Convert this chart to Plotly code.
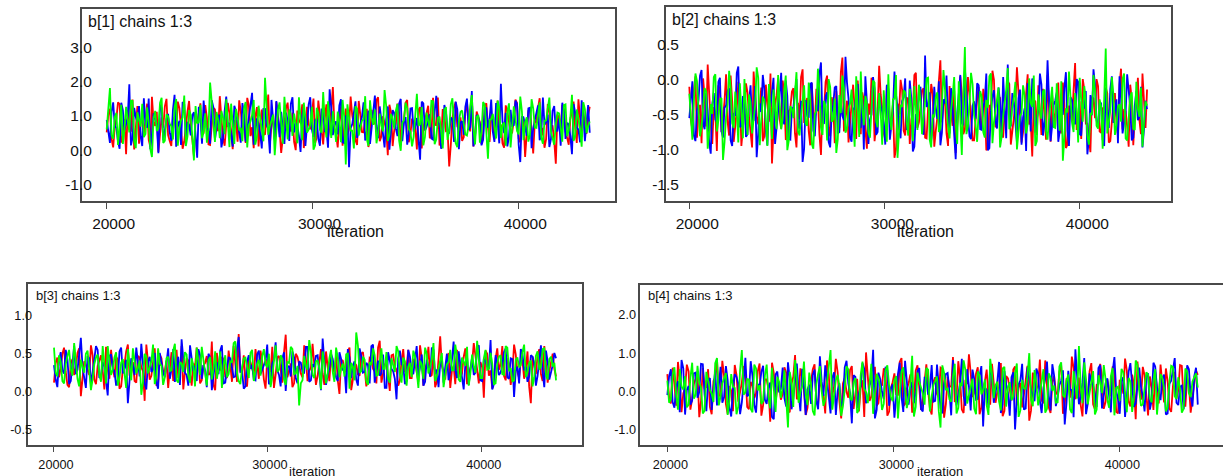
import plotly.graph_objects as go

# ---- sampling grid (iterations) ----
start_iter = 20001
thin = 78.5
n_samples = 300
iterations = [int(round(start_iter + i * thin)) for i in range(n_samples)]

chain_names = ["chain 1", "chain 2", "chain 3"]
chain_colors = ["#FF0000", "#0000FF", "#00FF00"]

# Each chain is stored as its even-numbered and odd-numbered thinned samples.
# ---- b[1] ----
b1_chain1_even = [0.52, 1.21, 0.08, 0.93, 1.35, 0.41, -0.12, 0.77, 1.48, 0.63, 0.19, 1.02, 0.85, 0.30, 1.56, 0.71, -0.05, 0.96, 1.28, 0.44,
                  0.12, 0.88, 1.42, 0.57, 0.26, 1.13, 0.69, -0.18, 0.81, 1.37, 0.50, 0.95, 0.15, 1.24, 0.62, 1.58, 0.36, 0.74, 1.07, 0.03,
                  0.89, 1.46, 0.58, 0.21, 1.31, 0.67, 0.98, 0.11, 1.19, 0.45, 1.63, 0.72, 0.33, 1.05, -0.08, 0.84, 1.39, 0.55, 0.24, 1.16,
                  0.79, 0.06, 1.27, 0.61, 1.51, 0.38, 0.92, 0.17, 1.34, 0.70, 1.85, 0.47, 0.86, 0.13, 1.22, 0.64, 1.01, 0.29, 1.44, 0.53,
                  0.97, 0.09, 1.18, 0.76, 1.55, 0.40, 0.83, -0.15, 1.11, 0.59, 1.36, 0.22, 0.90, 1.47, 0.48, 0.78, 0.02, 1.26, 0.66, 1.09,
                  0.35, 1.53, 0.73, 0.14, 1.20, 0.56, -0.48, 0.94, 1.41, 0.60, 0.27, 1.08, 0.80, 1.61, 0.42, 0.99, 0.18, 1.30, 0.68, 1.04,
                  0.31, 1.45, 0.75, 0.07, 1.15, 0.51, 0.87, 1.38, 0.23, 0.91, 0.46, 1.25, -0.10, 0.82, 1.52, 0.65, 0.32, 1.12, 0.71, -0.40,
                  0.96, 1.33, 0.54, 0.16, 1.23, 0.63, 1.49, 0.39, 0.85, 1.02]
b1_chain1_odd = [1.05, 0.33, 0.68, 1.40, 0.22, 0.91, 1.17, 0.54, 0.02, 1.29, 0.75, 0.48, 1.36, 0.10, 0.83, 1.12, 0.39, 0.66, 1.50, 0.27,
                 0.95, 0.58, 1.23, 0.04, 0.79, 1.44, 0.30, 0.87, 1.08, 0.45, 1.32, 0.17, 0.71, 1.19, 0.56, 0.94, 0.13, 1.38, 0.62, 0.84,
                 0.25, 1.14, 0.72, 1.53, 0.41, 0.06, 1.26, 0.80, 0.50, 1.02, 0.18, 0.97, 1.41, 0.60, 0.31, 1.22, 0.69, 1.10, 0.00, 0.88,
                 1.34, 0.47, 0.76, 1.06, 0.20, 1.45, 0.57, 0.93, 0.35, 1.16, 0.64, 0.08, 1.28, 0.81, 0.44, 1.57, 0.73, 0.15, 1.03, 0.52,
                 1.21, 0.37, 0.86, 1.47, 0.26, 0.99, 0.61, 1.33, 0.12, 0.78, 1.09, 0.49, 1.39, 0.23, 0.92, 0.67, 1.18, 0.05, 0.84, 1.30,
                 0.43, 0.74, 1.54, 0.29, 1.01, 0.59, 0.16, 1.25, 0.70, 0.96, 0.38, 1.43, 0.55, 0.11, 1.13, 0.82, 0.46, 1.37, 0.24, 0.89,
                 1.07, 0.63, 0.19, 1.31, 0.77, 0.51, 1.48, 0.34, 0.98, -0.20, 1.15, 0.58, 0.85, 1.24, 0.42, 0.07, 1.35, 0.72, 0.28, 1.04,
                 0.60, 1.20, 0.36, 0.90, 1.42, 0.21, 0.79, 1.11, 0.48, 1.27]
b1_chain2_even = [0.88, 0.21, 1.40, 0.65, 0.04, 1.17, 0.79, 1.93, 0.36, 0.97, 1.29, 0.12, 0.74, 1.51, 0.47, 0.90, -0.09, 1.23, 0.58, 1.06,
                  0.27, 1.62, 0.69, 0.15, 1.34, 0.83, 0.43, 1.11, -0.22, 0.95, 1.45, 0.60, 0.19, 1.26, 0.72, 1.03, 0.34, 1.57, 0.80, 0.10,
                  1.14, 0.55, 1.38, 0.25, 0.93, 1.68, 0.49, 0.77, 0.05, 1.21, 0.62, 1.47, 0.30, 0.99, 1.12, 0.18, 0.86, 1.36, 0.52, 0.71,
                  -0.05, 1.25, 0.67, 1.55, 0.39, 0.92, 0.13, 1.19, 0.61, 1.78, 0.44, 0.84, 1.31, 0.23, 1.01, -0.50, 0.76, 1.43, 0.57, 0.97,
                  0.28, 1.16, 0.70, 1.60, 0.35, 0.89, 0.08, 1.28, 0.63, 1.09, 0.41, 1.50, 0.81, 0.16, 1.22, 0.54, 0.94, -0.28, 1.37, 0.68,
                  1.05, 0.31, 1.59, 0.78, 0.20, 1.13, 0.48, 0.91, 1.42, 0.03, 0.85, 1.27, 0.59, 1.73, 0.37, 0.98, 0.14, 1.20, 0.66, 1.48,
                  0.24, 0.87, 1.94, 0.50, 0.11, 1.18, 0.73, 1.35, -0.35, 0.96, 0.42, 1.24, 0.64, 1.06, 0.29, 1.54, 0.82, 0.09, 1.15, 0.56,
                  0.93, 1.39, 0.33, 0.75, -0.12, 1.10, 0.60, 1.46, 0.26, 1.32]
b1_chain2_odd = [0.47, 1.12, 0.70, 0.25, 1.39, 0.58, 0.96, 0.14, 1.24, 0.83, 0.40, 1.52, 0.66, 0.03, 1.08, 0.77, 1.33, 0.29, 0.91, 0.52,
                 1.18, 0.10, 0.86, 1.41, 0.35, 0.74, 1.02, 0.56, 1.27, 0.19, 0.89, 0.62, 1.46, 0.31, 0.98, 0.08, 1.15, 0.68, 0.44, 1.30,
                 0.80, 0.22, 1.05, 0.59, 1.37, 0.16, 0.93, 0.49, 1.21, 0.72, -0.10, 0.85, 1.44, 0.38, 0.65, 1.10, 0.27, 1.55, 0.79, 0.42,
                 1.00, 0.12, 1.34, 0.61, 0.88, 0.33, 1.19, 0.53, 0.07, 1.26, 0.75, 0.46, 1.49, 0.21, 0.94, 0.64, 1.13, 0.36, 0.82, 1.40,
                 0.55, 0.18, 1.07, 0.73, 1.28, 0.43, 0.90, 0.01, 1.17, 0.63, 1.36, 0.26, 0.97, 0.50, 1.23, 0.69, 0.15, 1.42, 0.57, 0.87,
                 0.34, 1.11, 0.78, 0.04, 1.32, 0.60, 0.95, 0.24, 1.20, 0.81, 0.45, 1.51, 0.67, 0.11, 1.03, 0.76, 0.30, 1.25, 0.92, 0.54,
                 1.38, 0.20, 0.84, 1.09, 0.39, 0.71, 1.45, 0.17, 0.99, 0.62, 1.22, 0.06, 0.88, 1.31, 0.48, 0.74, 1.04, 0.32, 1.29, 0.57,
                 0.13, 1.16, 0.80, 0.41, 1.35, 0.66, 0.23, 1.07, 0.85, 0.51]
b1_chain3_even = [0.61, 1.82, 0.33, 1.09, 0.75, 0.18, 1.27, 0.52, 1.44, 0.06, 0.91, 1.36, 0.47, 0.80, -0.20, 1.15, 0.64, 1.53, 0.28, 0.99,
                  0.70, 1.25, 0.13, 0.87, 1.60, 0.40, 1.04, -0.30, 0.78, 1.33, 0.55, 0.22, 1.98, 0.68, 1.12, 0.35, 0.94, 1.49, 0.09, 0.83,
                  1.21, 0.58, 0.26, 1.41, 0.73, 1.02, 0.16, 1.30, 0.62, 2.12, 0.45, 0.89, -0.15, 1.18, 0.66, 1.56, 0.31, 0.97, 1.07, 0.20,
                  0.85, 1.39, 0.51, 0.74, 0.01, 1.24, 0.60, 1.70, 0.37, 0.92, 1.14, 0.24, 0.79, 1.47, -0.42, 1.00, 0.57, 1.29, 0.43, 0.86,
                  1.58, 0.12, 0.95, 1.19, 0.49, 0.71, 1.76, 0.27, 1.06, 0.63, 1.35, -0.02, 0.88, 1.23, 0.54, 0.39, 1.65, 0.76, 0.14, 1.10,
                  0.67, 1.43, 0.32, 0.98, 0.05, 1.26, 0.59, 1.52, 0.21, 0.84, 1.16, 0.46, 0.72, 1.61, 0.17, 1.03, 0.53, 1.32, -0.25, 0.90,
                  0.69, 1.45, 0.36, 0.81, 1.13, 0.08, 1.28, 0.56, 1.57, 0.29, 0.96, 0.44, 1.22, 0.65, 1.40, 0.19, 0.87, 1.54, 0.38, 0.77,
                  1.08, 0.25, 1.34, 0.58, 1.62, 0.41, 0.93, 0.10, 1.20, 0.70]
b1_chain3_odd = [1.20, 0.44, 0.97, 0.15, 1.33, 0.60, 0.86, 1.45, 0.27, 1.11, 0.69, 0.38, 1.25, 0.04, 0.92, 0.56, 1.38, 0.21, 1.05, 0.77,
                 0.31, 1.50, 0.63, 0.95, 0.12, 1.17, 0.49, 1.29, 0.82, 0.35, 1.08, 0.59, 1.42, 0.24, 0.88, 1.15, 0.47, 0.73, 1.36, 0.18,
                 0.99, 0.65, 1.23, 0.08, 0.84, 1.47, 0.40, 0.91, 0.26, 1.31, 0.70, 1.04, 0.53, 1.40, 0.19, 0.87, 1.19, 0.42, 0.76, 1.55,
                 0.29, 0.96, 0.61, 1.27, 0.14, 1.09, 0.51, 0.83, 1.43, 0.36, 0.71, 1.13, 0.23, 0.98, 1.34, 0.57, 0.05, 1.21, 0.67, 0.90,
                 0.33, 1.46, 0.74, 0.20, 1.07, 0.55, 1.30, 0.45, 0.93, 1.16, 0.28, 0.80, 1.39, 0.62, 0.11, 1.01, 0.72, 1.26, 0.39, 0.85,
                 1.44, 0.17, 0.94, 0.58, 1.18, 0.30, 1.35, 0.68, 0.09, 1.12, 0.79, 0.43, 1.28, 0.64, 0.97, 0.22, 1.41, 0.52, 0.89, 1.06,
                 0.34, 1.24, 0.75, 0.13, 1.37, 0.60, 0.92, 0.46, 1.14, 0.81, 0.25, 1.49, 0.66, 1.02, 0.37, 0.86, 1.22, 0.54, 0.16, 1.10,
                 0.73, 1.32, 0.41, 0.95, 0.27, 1.19, 0.63, 1.40, 0.50, 0.84]

# ---- b[2] ----
b2_chain1_even = [-0.10, -0.72, 0.05, -0.48, -0.91, -0.25, 0.22, -0.63, -0.39, -1.02, -0.14, -0.55, 0.08, -0.80, -0.31, -0.67, -0.03, -0.95, -0.44, -0.18,
                  -0.76, 0.12, -0.52, -0.29, -0.88, -0.07, -0.60, -1.20, -0.35, 0.02, -0.70, -0.21, -0.84, -0.41, -0.12, -0.97, -0.57, 0.15, -0.33, -0.74,
                  -0.05, -0.62, -0.27, -1.08, -0.46, 0.06, -0.81, -0.37, -0.16, -0.69, 0.32, -0.53, -0.90, -0.23, -0.43, -0.01, -0.78, -0.30, -0.99, -0.50,
                  -0.11, -0.65, 0.20, -0.40, -0.86, -0.19, -0.58, -1.12, -0.34, 0.00, -0.73, -0.26, -0.92, -0.47, 0.10, -0.61, -0.15, -0.83, -0.38, -0.06,
                  -0.96, -0.54, 0.28, -0.32, -0.77, -0.09, -0.66, -1.05, -0.42, -0.20, -0.71, 0.04, -0.49, -0.87, -0.28, -0.59, -0.13, -1.01, -0.36, 0.13,
                  -0.68, -0.24, -0.82, -0.45, -0.02, -0.93, -0.56, 0.18, -0.39, -0.75, -0.17, -0.64, -1.10, -0.31, -0.08, -0.79, -0.44, 0.07, -0.89, -0.51,
                  -0.22, -0.70, -0.04, -0.98, -0.37, -0.60, 0.24, -0.47, -0.85, -0.14, -0.63, -1.04, -0.27, 0.01, -0.74, -0.40, -0.11, -0.90, -0.55, -0.19,
                  -0.80, 0.16, -0.42, -0.67, -0.07, -0.94, -0.33, -0.58, 0.09, -0.69]
b2_chain1_odd = [-0.58, -0.15, -0.83, -0.36, 0.02, -0.67, -0.24, -0.92, -0.47, -0.08, -0.75, -0.31, -0.60, 0.06, -0.89, -0.42, -0.19, -0.70, -0.05, -0.53,
                 -0.97, -0.28, -0.64, -0.11, -0.81, -0.39, 0.09, -0.72, -0.22, -0.56, -0.01, -0.86, -0.45, -0.17, -0.77, -0.33, 0.04, -0.62, -0.26, -0.94,
                 -0.49, -0.13, -0.79, -0.37, -0.03, -0.68, -0.25, -0.91, -0.52, 0.11, -0.74, -0.30, -0.59, -0.07, -0.85, -0.41, -0.18, -0.71, -0.34, 0.03,
                 -0.88, -0.46, -0.21, -0.76, -0.09, -0.63, -0.35, -1.00, -0.50, -0.14, -0.80, -0.27, -0.57, 0.07, -0.69, -0.40, -0.12, -0.84, -0.44, -0.20,
                 -0.73, -0.02, -0.61, -0.29, -0.95, -0.48, -0.16, -0.66, 0.05, -0.78, -0.38, -0.23, -0.87, -0.54, -0.10, -0.70, -0.32, -0.99, -0.43, 0.00,
                 -0.65, -0.26, -0.82, -0.51, -0.06, -0.74, -0.35, -0.18, -0.90, -0.46, 0.08, -0.60, -0.29, -0.79, -0.40, -0.13, -0.86, -0.53, -0.22, -0.68,
                 -0.04, -0.77, -0.37, -0.93, -0.49, -0.15, -0.72, -0.31, 0.01, -0.63, -0.84, -0.24, -0.55, -0.09, -0.76, -0.42, -0.19, -0.88, -0.33, -0.61,
                 -0.07, -0.71, -0.45, -0.96, -0.28, -0.52, 0.03, -0.78, -0.36, -0.14]
b2_chain2_even = [-0.55, -0.02, -0.88, -0.30, 0.14, -0.71, -0.44, -1.06, -0.19, -0.61, 0.03, -0.83, -0.37, -0.12, -0.95, -0.50, 0.19, -0.66, -0.26, -0.78,
                  -0.08, -0.58, -1.11, -0.34, 0.07, -0.73, -0.41, -0.16, -0.92, -0.48, 0.10, -0.64, -0.23, -0.86, -0.39, 0.01, -0.70, -1.18, -0.29, -0.53,
                  -0.04, -0.81, -0.45, 0.25, -0.62, -0.18, -0.97, -0.36, -0.09, -0.75, -0.52, 0.33, -0.27, -0.89, -0.42, -0.06, -0.68, -1.00, -0.32, -0.57,
                  0.04, -0.79, -0.21, -0.46, -0.93, -0.13, -0.60, 0.12, -0.38, -0.84, -0.25, -0.72, -0.01, -1.03, -0.49, -0.15, -0.65, 0.35, -0.35, -0.87,
                  -0.10, -0.56, -0.94, -0.28, 0.06, -0.77, -0.43, -1.14, -0.20, -0.63, 0.17, -0.51, -0.85, -0.31, -0.05, -0.71, -0.40, 0.09, -0.98, -0.24,
                  -0.59, -0.11, -0.82, -0.47, 0.22, -0.67, -0.33, -0.90, -0.14, -0.54, -1.02, -0.26, 0.02, -0.76, -0.44, -0.07, -0.61, 0.28, -0.88, -0.36,
                  -0.18, -0.73, -0.50, 0.11, -0.95, -0.29, -0.64, -0.03, -0.80, -0.41, -1.07, -0.22, 0.15, -0.58, -0.34, -0.86, -0.12, -0.69, 0.05, -0.48,
                  -0.91, -0.27, -0.62, 0.08, -0.39, -0.83, -0.16, -0.53, -0.97, -0.30]
b2_chain2_odd = [-0.27, -0.80, -0.44, 0.06, -0.63, -0.19, -0.91, -0.35, -0.57, -0.03, -0.74, -0.40, -0.16, -0.87, -0.49, 0.10, -0.68, -0.25, -0.82, -0.32,
                 -0.60, -0.09, -0.78, -0.46, -0.13, -0.94, -0.38, 0.03, -0.70, -0.22, -0.55, -0.01, -0.85, -0.43, -0.17, -0.66, -0.30, -0.99, -0.52, -0.06,
                 -0.73, -0.36, 0.08, -0.61, -0.24, -0.89, -0.47, -0.11, -0.77, -0.33, -0.58, -0.04, -0.83, -0.41, -0.20, -0.69, -0.28, 0.05, -0.92, -0.50,
                 -0.14, -0.75, -0.37, -0.62, -0.07, -0.86, -0.45, -0.21, -0.71, -0.31, 0.02, -0.65, -0.26, -0.96, -0.53, -0.10, -0.79, -0.39, -0.18, -0.67,
                 -0.42, -0.02, -0.76, -0.34, -0.59, -0.12, -0.88, -0.48, 0.07, -0.64, -0.23, -0.81, -0.37, -0.56, -0.08, -0.72, -0.29, -1.01, -0.45, -0.15,
                 -0.70, -0.33, 0.04, -0.84, -0.50, -0.19, -0.61, -0.27, -0.93, -0.41, -0.05, -0.74, -0.36, -0.57, 0.09, -0.80, -0.44, -0.21, -0.66, -0.30,
                 -0.89, -0.47, -0.11, -0.73, -0.25, -0.54, 0.01, -0.78, -0.39, -0.16, -0.85, -0.51, -0.07, -0.69, -0.34, -0.95, -0.43, -0.13, -0.62, -0.28,
                 0.05, -0.77, -0.48, -0.20, -0.87, -0.37, -0.58, -0.10, -0.71, -0.42]
b2_chain3_even = [-0.20, -0.86, 0.09, -0.47, -0.68, -0.12, -0.99, -0.35, 0.04, -0.74, -0.28, -1.15, -0.53, 0.13, -0.62, -0.17, -0.90, -0.41, 0.01, -0.79,
                  -0.32, -0.58, 0.18, -0.94, -0.24, -0.66, -0.06, -0.85, -0.43, 0.07, -0.71, -0.15, -1.01, -0.38, -0.55, 0.11, -0.80, -0.26, -0.63, -0.04,
                  -0.92, -0.49, 0.16, -0.69, -0.30, -0.87, -0.10, -0.57, -1.05, -0.22, 0.06, -0.76, -0.40, -0.14, -0.96, -0.51, 0.12, -0.65, -0.33, -0.83,
                  -0.01, -0.59, -0.19, -0.93, -0.45, 0.08, -0.72, -0.27, -1.12, -0.36, -0.15, -0.61, -0.13, -0.88, -0.42, -0.07, -0.78, -0.31, 0.03, -0.97,
                  -0.54, -0.18, -0.70, 0.14, -0.46, -0.84, -0.23, -0.60, -0.02, -1.08, 0.47, -0.67, 0.10, -0.50, -0.89, -0.16, -0.75, -0.29, 0.05, -0.91,
                  -0.44, -0.11, -0.82, -0.34, 0.17, -0.64, -0.25, -1.00, -0.52, -0.08, -0.77, 0.02, -0.39, -0.95, -0.21, -0.56, -0.14, -0.86, -0.32, -0.68,
                  -0.05, -0.73, -1.16, -0.41, 0.12, -0.62, -0.19, -0.90, -0.35, -0.09, -0.81, -0.48, 0.07, -0.66, -0.28, -0.99, 0.45, -0.57, 0.04, -0.79,
                  -0.38, -0.60, 0.09, -0.87, -0.24, -0.70, -0.03, -0.53, -0.96, -0.31]
b2_chain3_odd = [-0.64, -0.30, -0.02, -0.81, -0.40, -0.17, -0.73, -0.49, 0.08, -0.58, -0.26, -0.90, -0.35, -0.11, -0.69, -0.44, -0.05, -0.84, -0.52, -0.21,
                 -0.77, -0.37, 0.03, -0.63, -0.29, -0.95, -0.46, -0.14, -0.71, -0.33, -0.56, 0.06, -0.87, -0.42, -0.19, -0.74, -0.51, -0.08, -0.66, -0.31,
                 -0.99, -0.45, -0.16, -0.79, -0.38, 0.01, -0.60, -0.27, -0.85, -0.48, -0.12, -0.70, -0.34, -0.57, 0.05, -0.82, -0.41, -0.23, -0.76, -0.36,
                 -0.04, -0.68, -0.47, -0.15, -0.89, -0.53, -0.28, 0.07, -0.62, -0.39, -0.18, -0.80, -0.44, -0.09, -0.72, -0.32, -0.59, 0.02, -0.86, -0.50,
                 -0.25, -0.75, -0.37, -0.13, -0.67, -0.43, 0.04, -0.92, -0.55, -0.20, -0.78, -0.35, -0.06, -0.65, -0.46, -0.24, -0.83, -0.40, 0.09, -0.61,
                 -0.30, -0.97, -0.52, -0.14, -0.71, -0.38, -0.03, -0.79, -0.48, -0.22, -0.64, -0.33, 0.06, -0.88, -0.45, -0.17, -0.73, -0.54, -0.10, -0.69,
                 -0.36, -0.02, -0.82, -0.47, -0.26, -0.75, -0.41, 0.03, -0.60, -0.31, -0.93, -0.50, -0.15, -0.70, -0.39, -0.08, -0.77, -0.44, -0.21, -0.66,
                 -0.35, 0.01, -0.84, -0.49, -0.18, -0.72, -0.42, -0.11, -0.62, -0.37]

# ---- b[3] ----
b3_chain1_even = [0.12, 0.45, 0.31, 0.58, 0.09, 0.37, 0.22, 0.51, -0.06, 0.40, 0.27, 0.61, 0.16, 0.34, 0.48, 0.03, 0.29, 0.55, 0.19, 0.42,
                  0.07, 0.36, 0.62, 0.24, 0.14, 0.47, 0.32, -0.12, 0.39, 0.21, 0.57, 0.11, 0.44, 0.28, 0.05, 0.52, 0.35, 0.18, 0.60, 0.26,
                  0.41, 0.08, 0.33, 0.49, 0.15, 0.38, 0.23, 0.66, 0.02, 0.30, 0.46, 0.20, 0.54, 0.13, 0.37, 0.76, 0.25, 0.10, 0.43, 0.31,
                  0.56, 0.17, 0.40, 0.04, 0.34, 0.59, 0.22, 0.47, 0.12, 0.75, 0.28, 0.06, 0.50, 0.36, 0.19, 0.44, 0.27, 0.63, 0.09, 0.39,
                  0.24, 0.53, 0.14, 0.32, 0.48, -0.03, 0.41, 0.26, 0.58, 0.16, 0.35, 0.21, 0.52, 0.07, 0.45, 0.30, 0.11, 0.67, 0.23, 0.38,
                  0.01, 0.49, 0.29, 0.15, 0.56, 0.33, 0.18, 0.43, 0.25, 0.61, 0.08, 0.37, 0.20, 0.51, 0.13, 0.73, 0.27, 0.42, 0.05, 0.34,
                  0.55, 0.19, 0.46, 0.10, 0.31, 0.64, 0.24, 0.39, -0.08, 0.50, 0.28, 0.14, 0.57, 0.36, 0.21, 0.44, 0.09, 0.62, 0.26, 0.40,
                  0.17, 0.53, -0.15, 0.35, 0.48, 0.23, 0.60, 0.12, 0.38, 0.30]
b3_chain1_odd = [0.38, 0.19, 0.50, 0.26, 0.06, 0.43, 0.32, 0.57, 0.15, 0.35, 0.22, 0.48, 0.10, 0.40, 0.28, 0.59, 0.17, 0.33, 0.46, 0.04,
                 0.30, 0.53, 0.21, 0.39, 0.12, 0.45, 0.27, 0.62, 0.16, 0.36, 0.08, 0.49, 0.24, 0.41, 0.31, 0.14, 0.55, 0.25, 0.03, 0.44,
                 0.20, 0.37, 0.58, 0.11, 0.34, 0.47, 0.23, 0.09, 0.51, 0.29, 0.42, 0.18, 0.35, 0.60, 0.13, 0.27, 0.48, 0.07, 0.39, 0.22,
                 0.33, 0.54, 0.16, 0.43, 0.26, 0.05, 0.45, 0.30, 0.52, 0.19, 0.37, 0.11, 0.46, 0.24, 0.61, 0.14, 0.32, 0.40, 0.21, 0.56,
                 0.09, 0.35, 0.47, 0.25, 0.15, 0.42, 0.29, 0.53, 0.02, 0.38, 0.23, 0.50, 0.31, 0.17, 0.44, 0.27, 0.58, 0.12, 0.36, 0.20,
                 0.48, 0.33, 0.08, 0.41, 0.26, 0.55, 0.18, 0.39, 0.13, 0.45, 0.30, 0.59, 0.22, 0.06, 0.43, 0.34, 0.16, 0.51, 0.28, 0.10,
                 0.40, 0.24, 0.57, 0.19, 0.37, 0.47, 0.11, 0.32, 0.54, 0.21, 0.04, 0.44, 0.29, 0.60, 0.15, 0.36, 0.25, 0.49, 0.18, 0.41,
                 0.31, 0.07, 0.46, 0.23, 0.56, 0.14, 0.38, 0.27, 0.50, 0.20]
b3_chain2_even = [0.35, 0.06, 0.52, 0.24, 0.43, 0.14, 0.60, 0.29, 0.71, 0.18, 0.47, 0.09, 0.38, 0.55, 0.21, 0.33, -0.05, 0.49, 0.27, 0.16,
                  0.58, 0.31, -0.15, 0.44, 0.22, 0.36, 0.63, 0.11, 0.40, 0.26, 0.51, 0.04, 0.37, 0.19, 0.57, 0.30, 0.13, 0.46, 0.69, 0.25,
                  0.08, 0.42, 0.34, 0.56, 0.17, 0.28, 0.50, 0.02, 0.39, 0.23, 0.61, 0.12, 0.45, 0.32, 0.20, 0.72, 0.27, 0.07, 0.48, 0.35,
                  0.15, 0.54, 0.29, 0.41, 0.10, 0.37, 0.65, 0.22, 0.44, 0.01, 0.33, 0.53, 0.18, 0.40, 0.26, 0.59, 0.13, 0.36, 0.47, 0.24,
                  0.70, 0.09, 0.31, 0.43, 0.19, 0.52, 0.28, -0.02, 0.45, 0.34, 0.16, 0.57, 0.25, 0.38, 0.11, 0.62, 0.30, 0.21, 0.49, 0.05,
                  0.41, 0.27, -0.10, 0.54, 0.35, 0.14, 0.46, 0.23, 0.60, 0.32, 0.08, 0.42, 0.20, 0.55, 0.29, 0.37, 0.12, 0.50, 0.26, 0.66,
                  0.18, 0.39, 0.03, 0.47, 0.31, 0.22, 0.58, 0.15, 0.43, 0.34, 0.68, 0.10, 0.36, 0.25, 0.52, 0.19, 0.44, -0.07, 0.33, 0.56,
                  0.28, 0.13, 0.48, 0.37, 0.21, 0.61, 0.06, 0.40, 0.27, 0.51]
b3_chain2_odd = [0.16, 0.41, 0.28, 0.55, 0.10, 0.36, 0.23, 0.49, 0.32, 0.05, 0.44, 0.26, 0.60, 0.18, 0.39, 0.13, 0.47, 0.30, 0.08, 0.53,
                 0.24, 0.42, 0.15, 0.34, 0.58, 0.20, 0.37, 0.03, 0.46, 0.29, 0.12, 0.51, 0.25, 0.40, 0.17, 0.56, 0.33, 0.09, 0.43, 0.22,
                 0.61, 0.27, 0.14, 0.48, 0.35, 0.06, 0.45, 0.21, 0.38, 0.54, 0.11, 0.31, 0.44, 0.19, 0.57, 0.26, 0.04, 0.40, 0.30, 0.16,
                 0.49, 0.23, 0.36, 0.62, 0.13, 0.42, 0.28, 0.07, 0.52, 0.34, 0.20, 0.45, 0.11, 0.38, 0.25, 0.59, 0.15, 0.33, 0.48, 0.02,
                 0.37, 0.22, 0.50, 0.29, 0.14, 0.43, 0.31, 0.56, 0.18, 0.40, 0.08, 0.47, 0.26, 0.35, 0.60, 0.12, 0.41, 0.24, 0.05, 0.52,
                 0.30, 0.17, 0.44, 0.36, 0.10, 0.55, 0.27, 0.39, 0.21, 0.49, 0.13, 0.34, 0.58, 0.23, 0.06, 0.46, 0.32, 0.15, 0.42, 0.28,
                 0.53, 0.19, 0.37, 0.09, 0.45, 0.25, 0.61, 0.14, 0.40, 0.30, 0.03, 0.48, 0.22, 0.35, 0.57, 0.17, 0.43, 0.27, 0.11, 0.50,
                 0.33, 0.20, 0.46, 0.08, 0.39, 0.26, 0.54, 0.16, 0.35, 0.44]
b3_chain3_even = [0.58, 0.20, 0.39, 0.11, 0.47, 0.30, 0.64, 0.17, 0.42, 0.25, 0.54, 0.02, 0.36, 0.49, 0.13, 0.33, 0.60, 0.22, 0.45, 0.08,
                  0.38, 0.27, 0.56, 0.15, 0.43, 0.31, -0.04, 0.50, 0.24, 0.40, 0.10, 0.57, 0.34, 0.19, 0.46, 0.28, 0.63, 0.12, 0.37, 0.52,
                  0.21, 0.44, 0.07, 0.35, 0.59, 0.26, 0.41, 0.16, 0.53, 0.30, 0.05, 0.48, 0.23, 0.39, 0.66, 0.14, 0.32, 0.45, 0.18, 0.55,
                  0.27, 0.42, 0.47, 0.36, 0.50, 0.20, 0.61, 0.29, 0.43, 0.09, 0.38, 0.56, 0.24, -0.18, 0.15, 0.34, 0.68, 0.22, 0.40, 0.31,
                  0.53, 0.11, 0.44, 0.26, 0.58, 0.19, 0.37, 0.49, 0.04, 0.33, 0.78, 0.25, 0.46, 0.14, 0.39, 0.57, 0.21, 0.42, 0.30, 0.52,
                  0.12, 0.35, 0.60, 0.23, 0.45, 0.08, 0.38, 0.54, 0.27, 0.41, 0.17, 0.50, 0.32, 0.64, 0.20, 0.43, 0.06, 0.36, 0.55, 0.28,
                  0.47, 0.13, 0.40, 0.59, 0.24, 0.34, 0.67, 0.18, 0.44, 0.29, 0.51, 0.10, 0.37, 0.48, 0.22, 0.58, 0.31, 0.15, 0.45, 0.35,
                  0.62, 0.26, 0.41, 0.19, 0.53, 0.33, 0.57, 0.16, 0.46, 0.38]
b3_chain3_odd = [0.25, 0.48, 0.14, 0.36, 0.55, 0.21, 0.40, 0.07, 0.33, 0.50, 0.28, 0.16, 0.45, 0.23, 0.60, 0.11, 0.38, 0.29, 0.52, 0.18,
                 0.43, 0.05, 0.35, 0.57, 0.24, 0.41, 0.13, 0.47, 0.31, 0.62, 0.20, 0.37, 0.09, 0.44, 0.27, 0.54, 0.15, 0.39, 0.26, 0.49,
                 0.12, 0.34, 0.58, 0.22, 0.42, 0.08, 0.46, 0.30, 0.17, 0.53, 0.35, 0.19, 0.40, 0.64, 0.25, 0.10, 0.44, 0.28, 0.51, 0.14,
                 0.37, 0.21, 0.56, 0.32, 0.06, 0.43, 0.26, 0.48, 0.16, 0.39, 0.59, 0.23, 0.34, 0.11, 0.47, 0.29, 0.52, 0.18, 0.41, 0.03,
                 0.36, 0.24, 0.55, 0.13, 0.45, 0.31, 0.20, 0.50, 0.38, 0.15, 0.61, 0.27, 0.42, 0.09, 0.35, 0.48, 0.22, 0.57, 0.30, 0.17,
                 0.44, 0.26, 0.53, 0.12, 0.40, 0.33, 0.19, 0.47, 0.05, 0.36, 0.58, 0.24, 0.43, 0.14, 0.31, 0.51, 0.21, 0.39, 0.28, 0.62,
                 0.16, 0.45, 0.34, 0.08, 0.49, 0.25, 0.41, 0.18, 0.55, 0.30, 0.37, 0.11, 0.46, 0.23, 0.60, 0.27, 0.13, 0.42, 0.32, 0.52,
                 0.19, 0.38, 0.07, 0.47, 0.29, 0.56, 0.22, 0.43, 0.33, 0.15]

# ---- b[4] ----
b4_chain1_even = [0.45, -0.32, 0.18, 0.77, -0.55, 0.06, 0.52, -0.20, 0.33, -0.68, 0.61, 0.11, -0.41, 0.27, 0.84, -0.12, 0.40, -0.59, 0.02, 0.69,
                  -0.27, 0.23, 0.56, -0.47, 0.14, -0.05, 0.73, -0.36, 0.31, -0.80, 0.48, 0.08, -0.22, 0.63, -0.50, 0.19, 0.95, -0.14, 0.37, -0.62,
                  0.04, 0.58, -0.30, 0.26, -0.09, 0.81, -0.44, 0.13, 0.50, -0.71, 0.35, -0.17, 0.66, 0.00, -0.53, 0.29, 1.02, -0.25, 0.42, -0.38,
                  0.16, 0.60, -0.64, 0.09, 0.47, -0.11, 0.87, -0.33, 0.21, -0.56, 0.54, 0.03, -0.19, 0.71, -0.45, 0.25, -0.07, 0.62, -0.69, 0.38,
                  0.12, -0.28, 0.79, -0.48, 0.30, 0.97, -0.15, 0.46, -0.60, 0.07, 0.57, -0.35, 0.20, -0.02, 0.74, -0.52, 0.34, -0.24, 0.65, 0.10,
                  -0.42, 0.28, -0.77, 0.49, 0.05, 0.83, -0.31, 0.15, -0.57, 0.41, -0.10, 0.68, -0.39, 0.24, 0.91, -0.21, 0.36, -0.66, 0.01, 0.53,
                  -0.34, 0.17, 0.72, -0.46, 0.32, -0.13, 0.59, -0.58, 0.22, 0.86, -0.26, 0.44, -0.73, 0.11, 0.64, -0.18, 0.39, -0.49, 0.08, 0.70,
                  -0.29, 0.27, -0.54, 0.51, 0.03, 0.67, -0.40, 0.19, -0.08, 0.55]
b4_chain1_odd = [-0.15, 0.62, -0.38, 0.29, -0.05, 0.70, -0.48, 0.20, 0.47, -0.25, 0.09, 0.58, -0.60, 0.36, -0.12, 0.80, -0.33, 0.14, -0.52, 0.43,
                 0.01, 0.66, -0.41, 0.25, -0.18, 0.53, -0.64, 0.31, 0.07, 0.75, -0.29, 0.18, -0.07, 0.49, -0.55, 0.38, -0.21, 0.60, 0.03, -0.44,
                 0.27, 0.71, -0.35, 0.12, -0.58, 0.45, -0.10, 0.85, -0.27, 0.21, -0.02, 0.56, -0.46, 0.33, 0.10, -0.67, 0.41, -0.14, 0.64, -0.31,
                 0.16, 0.50, -0.53, 0.24, -0.08, 0.77, -0.39, 0.06, 0.44, -0.23, 0.68, -0.49, 0.28, 0.02, -0.61, 0.37, -0.16, 0.59, -0.34, 0.13,
                 0.90, -0.20, 0.35, -0.57, 0.19, 0.48, -0.04, 0.63, -0.43, 0.26, -0.11, 0.72, -0.30, 0.11, -0.65, 0.40, 0.05, 0.57, -0.37, 0.22,
                 -0.09, 0.67, -0.50, 0.32, 0.15, -0.24, 0.81, -0.42, 0.23, -0.01, 0.52, -0.59, 0.34, -0.17, 0.61, 0.08, -0.36, 0.46, -0.13, 0.74,
                 -0.47, 0.20, 0.39, -0.28, 0.04, 0.65, -0.54, 0.30, -0.06, 0.55, -0.40, 0.17, 0.78, -0.22, 0.42, -0.63, 0.10, 0.51, -0.32, 0.27,
                 0.60, -0.45, 0.14, -0.19, 0.69, -0.26, 0.36, -0.56, 0.21, 0.43]
b4_chain2_even = [-0.10, 0.58, -0.43, 0.26, 0.82, -0.61, 0.14, -0.24, 0.49, -0.02, 0.71, -0.52, 0.35, 0.09, -0.37, 0.64, -0.15, 0.30, -0.66, 0.45,
                  0.20, -0.29, 0.88, -0.08, 0.40, -0.56, 0.12, 0.67, -0.33, 0.23, -0.73, 0.52, 0.06, -0.18, 0.76, -0.47, 0.33, -0.04, 0.59, -0.62,
                  0.17, 0.43, -0.26, 0.92, -0.12, 0.28, -0.58, 0.50, 0.01, -0.39, 0.63, 0.21, -0.84, 0.38, -0.06, 0.74, -0.31, 0.15, 1.09, -0.49,
                  0.32, -0.20, 0.55, 0.07, -0.69, 0.46, -0.14, 0.80, -0.35, 0.24, -0.01, 0.61, -0.53, 0.36, 0.11, -0.27, 0.70, -0.44, 0.19, 0.48,
                  -0.63, 0.29, -0.09, 0.85, -0.38, 0.13, 0.57, -0.22, 0.41, -0.92, 0.04, 0.66, -0.30, 0.25, -0.57, 0.53, -0.03, 0.37, -1.00, 0.18,
                  0.72, -0.45, 0.31, -0.11, 0.60, -0.25, 0.09, 0.78, -0.50, 0.42, -0.16, 0.27, -0.87, 0.54, 0.02, 1.10, -0.34, 0.22, -0.60, 0.47,
                  0.16, -0.41, 0.69, -0.07, 0.34, -0.55, 0.90, -0.19, 0.26, -0.67, 0.51, 0.05, -0.32, 0.62, -0.13, 0.39, -0.48, 0.75, 0.10, -0.23,
                  0.44, -0.58, 0.28, 0.87, -0.36, 0.15, -0.05, 0.58, -0.40, 0.62]
b4_chain2_odd = [0.40, -0.28, 0.12, -0.55, 0.60, 0.03, -0.35, 0.47, -0.17, 0.72, -0.08, 0.28, -0.49, 0.55, 0.15, -0.30, 0.66, -0.42, 0.07, 0.38,
                 -0.60, 0.24, -0.13, 0.79, -0.36, 0.19, 0.51, -0.22, 0.09, -0.67, 0.44, -0.03, 0.62, -0.40, 0.31, -0.19, 0.73, -0.52, 0.16, 0.05,
                 -0.33, 0.57, -0.47, 0.26, 0.68, -0.10, 0.35, -0.62, 0.21, -0.27, 0.80, -0.05, 0.42, -0.44, 0.13, 0.59, -0.23, 0.30, -0.71, 0.49,
                 -0.02, 0.64, -0.38, 0.18, -0.15, 0.75, -0.54, 0.27, 0.08, -0.31, 0.53, -0.46, 0.36, -0.09, 0.69, -0.25, 0.14, -0.58, 0.45, 0.01,
                 0.82, -0.37, 0.23, -0.12, 0.58, -0.50, 0.32, -0.20, 0.66, 0.10, -0.43, 0.41, -0.06, 0.77, -0.34, 0.19, -0.64, 0.50, -0.18, 0.29,
                 -0.48, 0.63, 0.04, -0.26, 0.46, -0.57, 0.34, -0.11, 0.71, -0.39, 0.17, 0.55, -0.29, 0.06, -0.68, 0.40, -0.14, 0.87, -0.32, 0.25,
                 -0.07, 0.61, -0.45, 0.21, -0.21, 0.52, 0.00, -0.59, 0.37, -0.16, 0.74, -0.41, 0.28, 0.11, -0.53, 0.47, -0.24, 0.65, -0.04, 0.33,
                 -0.61, 0.20, 0.56, -0.30, 0.12, -0.47, 0.68, -0.12, 0.39, -0.35]
b4_chain3_even = [0.28, -0.21, 0.63, -0.48, 0.12, 0.40, -0.35, 0.75, -0.09, 0.22, -0.58, 0.51, 0.03, -0.28, 0.87, -0.14, 0.34, -0.62, 0.45, 0.09,
                  -0.40, 1.08, -0.03, 0.31, -0.55, 0.60, 0.16, -0.26, 0.70, -0.45, 0.07, 0.38, -0.17, 0.55, -0.95, 0.24, 0.82, -0.30, 0.13, -0.07,
                  0.49, -0.52, 0.19, 0.66, -0.38, 0.27, 1.08, -0.11, 0.43, -0.64, 0.05, 0.57, -0.24, 0.35, -0.47, 0.78, -0.02, 0.20, -0.59, 0.46,
                  0.11, -0.33, 0.68, -0.15, 0.29, -0.71, 0.52, 0.01, -0.20, 0.93, -0.41, 0.26, -0.06, 0.61, -0.53, 0.17, 0.39, -0.95, 0.48, 0.08,
                  -0.27, 0.72, -0.44, 0.14, 0.56, -0.12, 0.33, -0.60, 0.42, 0.04, -0.36, 0.85, -0.18, 0.25, -0.50, 0.64, 0.10, -0.23, 0.47, -0.67,
                  0.30, 0.06, 1.00, -0.39, 0.21, -0.08, 0.58, -0.46, 0.36, 0.15, -0.29, 0.76, -0.16, 0.44, -0.57, 0.18, 1.19, -0.31, 0.32, -0.04,
                  0.53, -0.48, 0.23, 0.69, -0.22, 0.40, -0.63, 0.12, 0.59, -0.10, 0.35, -0.54, 0.81, 0.02, -0.34, 0.50, -0.19, 0.28, -0.61, 0.45,
                  0.09, -0.42, 0.67, -0.13, 0.37, -0.56, 0.60, -0.05, 0.26, 0.47]
b4_chain3_odd = [-0.30, 0.44, -0.12, 0.58, 0.05, -0.42, 0.36, -0.19, 0.67, 0.10, -0.51, 0.29, -0.06, 0.74, -0.37, 0.21, 0.48, -0.24, 0.13, -0.60,
                 0.55, -0.09, 0.32, -0.46, 0.70, 0.02, -0.33, 0.41, -0.15, 0.62, -0.54, 0.25, 0.09, -0.28, 0.51, -0.41, 0.35, -0.02, 0.78, -0.36,
                 0.18, -0.63, 0.46, 0.00, -0.22, 0.59, -0.48, 0.30, 0.12, -0.39, 0.66, -0.17, 0.23, -0.57, 0.43, 0.07, -0.31, 0.72, -0.11, 0.34,
                 -0.49, 0.54, 0.15, -0.26, 0.40, -0.04, 0.63, -0.44, 0.19, -0.66, 0.49, 0.06, -0.35, 0.57, -0.13, 0.27, -0.52, 0.68, 0.03, -0.21,
                 0.38, -0.58, 0.22, 0.81, -0.32, 0.11, -0.45, 0.52, -0.08, 0.31, -0.62, 0.45, 0.16, -0.27, 0.60, -0.40, 0.24, -0.14, 0.73, -0.50,
                 0.08, 0.39, -0.23, 0.56, -0.37, 0.17, -0.56, 0.47, 0.01, -0.30, 0.65, -0.10, 0.28, -0.47, 0.53, -0.19, 0.14, 0.76, -0.34, 0.20,
                 -0.61, 0.42, -0.05, 0.33, -0.43, 0.61, 0.09, -0.25, 0.50, -0.55, 0.26, -0.16, 0.69, -0.38, 0.12, 0.44, -0.29, 0.58, -0.07, 0.35,
                 -0.53, 0.23, 0.64, -0.20, 0.04, -0.46, 0.51, -0.15, 0.37, 0.10]


def merge(even, odd):
    out = []
    for a, b in zip(even, odd):
        out.extend([a, b])
    return out


# ---- tick labels ----
x_tickvals = [20000, 30000, 40000]
x_ticktext = ["20000", "30000", "40000"]
b1_yticks = [-1.0, 0.0, 1.0, 2.0, 3.0]
b2_yticks = [-1.5, -1.0, -0.5, 0.0, 0.5]
b3_yticks = [-0.5, 0.0, 0.5, 1.0]
b4_yticks = [-1.0, 0.0, 1.0, 2.0]

titles = ["b[1] chains 1:3", "b[2] chains 1:3", "b[3] chains 1:3", "b[4] chains 1:3"]

W, H = 1223, 476
FONT = "Liberation Sans, Arial, sans-serif"
FRAME = "#4a4a4a"
TRACE_WIDTH = 1.8

panels = [
    dict(data=[merge(b1_chain1_even, b1_chain1_odd), merge(b1_chain2_even, b1_chain2_odd), merge(b1_chain3_even, b1_chain3_odd)],
         yticks=b1_yticks, xpx=(81.7, 615.0), ypx=(9.3, 201.3), xr=[18786, 44700], yr=[-1.498, 4.124],
         fs=15.5, tfs=16, ystand=-15, xshift=7, mirror_x=True, mirror_y=True,
         title_xy=(86, 21.7), iter_xy=(355, 231)),
    dict(data=[merge(b2_chain1_even, b2_chain1_odd), merge(b2_chain2_even, b2_chain2_odd), merge(b2_chain3_even, b2_chain3_odd)],
         yticks=b2_yticks, xpx=(665.7, 1171.0), ypx=(7.3, 201.3), xr=[18790, 44700], yr=[-1.744, 1.041],
         fs=15.5, tfs=16, ystand=-18, xshift=8, mirror_x=True, mirror_y=True,
         title_xy=(670, 20), iter_xy=(925, 231)),
    dict(data=[merge(b3_chain1_even, b3_chain1_odd), merge(b3_chain2_even, b3_chain2_odd), merge(b3_chain3_even, b3_chain3_odd)],
         yticks=b3_yticks, xpx=(28.3, 582.3), ypx=(284.3, 444.7), xr=[18800, 44700], yr=[-0.697, 1.413],
         fs=12.7, tfs=13, ystand=-8, xshift=2, mirror_x=True, mirror_y=True,
         title_xy=(34, 295), iter_xy=(312, 471)),
    dict(data=[merge(b4_chain1_even, b4_chain1_odd), merge(b4_chain2_even, b4_chain2_odd), merge(b4_chain3_even, b4_chain3_odd)],
         yticks=b4_yticks, xpx=(640.3, 1223.0), ypx=(285.3, 444.7), xr=[18805, 44588], yr=[-1.40, 2.78],
         fs=12.7, tfs=13, ystand=0, xshift=3, mirror_x=True, mirror_y=False,
         title_xy=(646, 295), iter_xy=(940, 471)),
]

fig = go.Figure()
layout = dict(width=W, height=H, margin=dict(l=0, r=0, t=0, b=0),
              paper_bgcolor="white", plot_bgcolor="white", showlegend=False,
              font=dict(family=FONT, color="#111111"))
annotations = []

for k, p in enumerate(panels):
    idx = "" if k == 0 else str(k + 1)
    xa, ya = "x" + idx, "y" + idx
    for c in range(3):
        fig.add_trace(go.Scatter(x=iterations, y=p["data"][c], mode="lines",
                                 name=chain_names[c], xaxis=xa, yaxis=ya,
                                 line=dict(color=chain_colors[c], width=TRACE_WIDTH),
                                 hoverinfo="skip"))
    x0, x1 = p["xpx"]
    ytop, ybot = p["ypx"]
    layout["xaxis" + idx] = dict(
        domain=[x0 / W, x1 / W], range=p["xr"], anchor=ya,
        showgrid=False, zeroline=False, showline=True, linecolor=FRAME, linewidth=1.5,
        mirror=p["mirror_x"], ticks="outside", ticklen=6, tickcolor=FRAME, tickwidth=1,
        tickmode="array", tickvals=x_tickvals, ticktext=x_ticktext,
        ticklabelshift=p["xshift"], ticklabelstandoff=1,
        tickfont=dict(size=p["fs"], family=FONT, color="#111111"))
    layout["yaxis" + idx] = dict(
        domain=[1 - ybot / H, 1 - ytop / H], range=p["yr"], anchor=xa,
        showgrid=False, zeroline=False, showline=True, linecolor=FRAME, linewidth=1.5,
        mirror=p["mirror_y"], ticks="",
        tickmode="array", tickvals=p["yticks"],
        ticktext=[("%.1f" % v) for v in p["yticks"]],
        ticklabelstandoff=p["ystand"],
        tickfont=dict(size=p["fs"], family=FONT, color="#111111"))
    tx, ty = p["title_xy"]
    annotations.append(dict(text=titles[k], xref="paper", yref="paper",
                            x=tx / W, y=1 - ty / H, xanchor="left", yanchor="middle",
                            showarrow=False, font=dict(size=p["tfs"], family=FONT, color="#111111")))
    ix, iy = p["iter_xy"]
    annotations.append(dict(text="iteration", xref="paper", yref="paper",
                            x=ix / W, y=1 - iy / H, xanchor="center", yanchor="middle",
                            showarrow=False, font=dict(size=p["tfs"], family=FONT, color="#111111")))

layout["annotations"] = annotations
fig.update_layout(**layout)
fig.write_html("out.html", config={"displayModeBar": False},
               post_script="document.body.style.margin='0px';")
